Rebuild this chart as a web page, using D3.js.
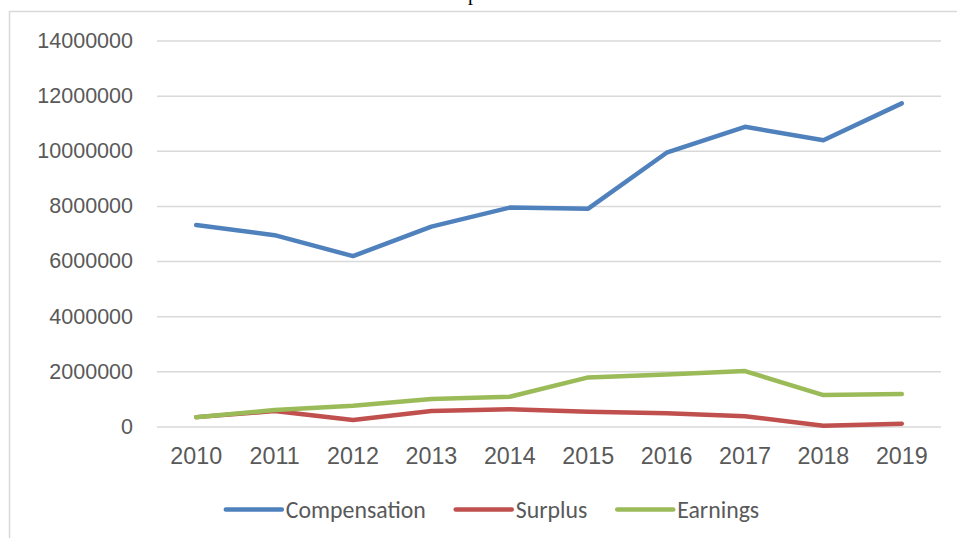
<!DOCTYPE html>
<html>
<head>
<meta charset="utf-8">
<script src="https://cdn.jsdelivr.net/npm/d3@7"></script>
<style>
  body { margin: 0; background: #fff; }
  .axis text { font-family: "Liberation Sans", Arial, sans-serif; fill: #595959; }
  .y-axis text { font-size: 21.5px; }
  .x-axis text { font-size: 23.3px; }
  .legend text { font-family: Carlito, Calibri, Lato, sans-serif; font-size: 23.8px; fill: #595959; }
</style>
</head>
<body>
<div id="chart"></div>
<script>
// données
const years = ["2010", "2011", "2012", "2013", "2014", "2015", "2016", "2017", "2018", "2019"];
const compensation = [7310000, 6940000, 6180000, 7250000, 7940000, 7900000, 9930000, 10870000, 10380000, 11720000];
const surplus = [340000, 560000, 235000, 562000, 623000, 536000, 478000, 370000, 30000, 100000];
const earnings = [333000, 598000, 754000, 996000, 1080000, 1780000, 1890000, 2010000, 1140000, 1180000];
const yTicks = [0, 2000000, 4000000, 6000000, 8000000, 10000000, 12000000, 14000000];
const seriesNames = ["Compensation", "Surplus", "Earnings"];

const colors = ["#4F81BD", "#C0504D", "#9BBB59"];
const series = [compensation, surplus, earnings];

// dimensions
const W = 957, H = 538;
const plot = { left: 157, right: 941, top: 40.5, bottom: 426.5 };

const svg = d3.select("#chart")
    .append("svg")
    .attr("width", W)
    .attr("height", H);

// cadre du graphique
svg.append("rect")
    .attr("x", 9.5)
    .attr("y", 11.5)
    .attr("width", W)
    .attr("height", H)
    .attr("fill", "none")
    .attr("stroke", "#D9D9D9")
    .attr("stroke-width", 1.5);

// titre (coupé en haut, comme dans l'original)
svg.append("text")
    .attr("x", 478)
    .attr("y", 0)
    .attr("text-anchor", "middle")
    .style("font-family", "'Liberation Serif', 'Times New Roman', serif")
    .style("font-size", "20px")
    .text("Comparison");

/*** échelles ***/
const x = d3.scaleBand()
    .domain(years)
    .range([plot.left, plot.right]);

const y = d3.scaleLinear()
    .domain([0, 14000000])
    .range([plot.bottom, plot.top]);

// axe Y + grille
const yAxis = svg.append("g")
    .attr("class", "axis y-axis")
    .attr("transform", `translate(${plot.left}, 0)`)
    .call(d3.axisLeft(y)
        .tickValues(yTicks)
        .tickSize(-(plot.right - plot.left))
        .tickPadding(24)
        .tickFormat(d3.format("d")));
yAxis.select(".domain").remove();
yAxis.selectAll("line").attr("stroke", "#D9D9D9").attr("stroke-width", 1.5);

// axe X
const xAxis = svg.append("g")
    .attr("class", "axis x-axis")
    .attr("transform", `translate(0, ${plot.bottom})`)
    .call(d3.axisBottom(x).tickSize(0).tickPadding(20.5));
xAxis.select(".domain").remove();

/*** lignes ***/
const line = d3.line()
    .x(function(d, i) { return x(years[i]) + x.bandwidth() / 2; })
    .y(function(d) { return y(d); });

svg.append("g")
    .selectAll("path")
    .data(series)
    .join("path")
    .attr("d", line)
    .attr("fill", "none")
    .attr("stroke", function(d, i) { return colors[i]; })
    .attr("stroke-width", 4.5)
    .attr("stroke-linejoin", "round")
    .attr("stroke-linecap", "round");

/*** légende ***/
const legend = svg.append("g").attr("class", "legend");
const lineLen = 56, gapText = 4, gapItem = 30, legendY = 509.5;
const items = legend.selectAll("g")
    .data(seriesNames)
    .join("g");
items.append("line")
    .attr("x1", 0).attr("x2", lineLen)
    .attr("y1", 0).attr("y2", 0)
    .attr("stroke", function(d, i) { return colors[i]; })
    .attr("stroke-width", 4.5)
    .attr("stroke-linecap", "round");
items.append("text")
    .attr("x", lineLen + gapText)
    .attr("dy", "0.35em")
    .text(function(d) { return d; });

// placement centré
let widths = [];
items.each(function() { widths.push(lineLen + gapText + d3.select(this).select("text").node().getComputedTextLength()); });
const total = d3.sum(widths) + gapItem * (widths.length - 1);
let cx = 492.5 - total / 2;
items.attr("transform", function(d, i) {
    const t = `translate(${cx}, ${legendY})`;
    cx += widths[i] + gapItem;
    return t;
});
</script>
</body>
</html>
